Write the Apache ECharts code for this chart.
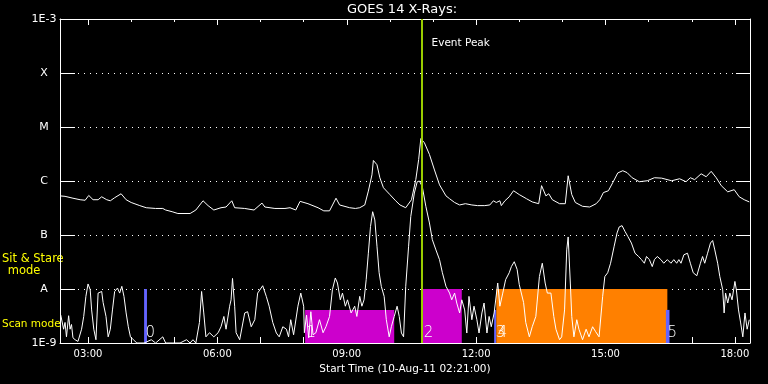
<!DOCTYPE html>
<html><head><meta charset="utf-8">
<script src="https://cdn.jsdelivr.net/npm/echarts@6/dist/echarts.min.js"></script>
<style>html,body{margin:0;padding:0;background:#000;}#c{width:768px;height:384px;}</style>
</head><body><div id="c"></div>
<script>
// ---------- data ----------
const chartTitle = 'GOES 14 X-Rays:';
const xAxisTitle = 'Start Time (10-Aug-11 02:21:00)';
const timeRange = [141, 1101];                 // minutes since 00:00, 10-Aug-11
const majorTicks = [180, 360, 540, 720, 900, 1080];
const hourTicks = [180, 240, 300, 360, 420, 480, 540, 600, 660, 720, 780, 840, 900, 960, 1020, 1080];
const fluxLevels = [1e-9, 1e-8, 1e-7, 1e-6, 1e-5, 1e-4, 1e-3];
const levelLabels = ['1E-9', 'A', 'B', 'C', 'M', 'X', '1E-3'];
const eventPeakTime = 644;
const eventPeakLabel = 'Event Peak';
const modeLabels = ['Sit & Stare', 'mode', 'Scan mode'];

// long channel (upper curve): [minutes, W/m^2]
const longChannel = [[141,5.3e-7],[148,5.2e-7],[159,4.8e-7],[169,4.5e-7],[176,4.4e-7],[181,5.4e-7],[187,4.5e-7],[194,4.5e-7],[199,5.1e-7],[206,4.5e-7],[211,4.3e-7],[217,4.9e-7],[226,5.8e-7],[233,4.5e-7],[240,4.0e-7],[252,3.5e-7],[261,3.2e-7],[274,3.1e-7],[284,3.1e-7],[288,2.9e-7],[297,2.7e-7],[305,2.5e-7],[322,2.5e-7],[330,2.9e-7],[340,4.3e-7],[347,3.5e-7],[355,2.9e-7],[365,3.2e-7],[372,3.3e-7],[380,4.3e-7],[384,3.2e-7],[398,3.1e-7],[411,2.9e-7],[422,3.9e-7],[426,3.3e-7],[440,3.1e-7],[454,3.1e-7],[461,3.2e-7],[469,2.9e-7],[475,4.2e-7],[486,3.8e-7],[500,3.2e-7],[508,2.8e-7],[516,2.8e-7],[525,4.8e-7],[530,3.6e-7],[544,3.2e-7],[552,3.1e-7],[558,3.2e-7],[565,3.6e-7],[570,6.5e-7],[575,1.3e-6],[577,2.4e-6],[582,2.0e-6],[586,1.15e-6],[591,7.5e-7],[600,5.6e-7],[608,4.3e-7],[614,3.6e-7],[622,3.2e-7],[630,4.5e-7],[636,1.06e-6],[640,2.5e-6],[643,6.1e-6],[648,5.1e-6],[655,3.1e-6],[662,1.6e-6],[669,8.5e-7],[678,5.3e-7],[683,4.7e-7],[690,4.0e-7],[697,3.6e-7],[705,3.8e-7],[714,3.6e-7],[722,3.5e-7],[732,3.5e-7],[739,3.6e-7],[744,4.3e-7],[748,4.0e-7],[753,4.3e-7],[755,3.5e-7],[760,4.3e-7],[766,5.1e-7],[772,6.6e-7],[780,5.6e-7],[790,4.7e-7],[798,4.1e-7],[807,3.8e-7],[811,8.2e-7],[817,5.3e-7],[821,5.8e-7],[826,4.5e-7],[836,3.8e-7],[844,3.8e-7],[848,1.25e-6],[853,5.6e-7],[858,4.0e-7],[868,3.4e-7],[878,3.3e-7],[887,3.8e-7],[892,4.5e-7],[897,6.1e-7],[904,6.6e-7],[910,9.3e-7],[917,1.41e-6],[924,1.55e-6],[930,1.43e-6],[937,1.15e-6],[947,9.7e-7],[958,1.01e-6],[968,1.15e-6],[978,1.13e-6],[992,1.01e-6],[1003,1.1e-6],[1012,9.7e-7],[1018,1.15e-6],[1024,1.06e-6],[1033,1.36e-6],[1040,1.2e-6],[1047,1.51e-6],[1054,1.15e-6],[1061,8.2e-7],[1070,6.3e-7],[1079,6.9e-7],[1086,5.1e-7],[1093,4.5e-7],[1100,4.1e-7]];

// short channel (lower curve): [minutes, W/m^2]
const shortChannel = [[142,3.3e-9],[146,1.8e-9],[148,2.4e-9],[150,1.3e-9],[153,3.2e-9],[155,1.8e-9],[157,2.2e-9],[159,1.25e-9],[162,1.15e-9],[166,1.07e-9],[171,1.8e-9],[174,3.1e-9],[177,7.3e-9],[180,1.24e-8],[183,9.7e-9],[185,4.1e-9],[188,1.8e-9],[191,1.15e-9],[194,8.4e-9],[199,9.0e-9],[201,5.6e-9],[205,3.1e-9],[208,1.3e-9],[211,1.8e-9],[214,4.1e-9],[217,9.0e-9],[221,1.04e-8],[224,8.4e-9],[227,1.12e-8],[230,7.3e-9],[233,3.6e-9],[236,2.0e-9],[239,1.3e-9],[243,1.15e-9],[248,1.0e-9],[258,1.0e-9],[268,1.15e-9],[274,1.0e-9],[284,1.3e-9],[288,1.0e-9],[298,1.0e-9],[308,1.0e-9],[317,1.15e-9],[322,1.0e-9],[326,1.15e-9],[330,1.0e-9],[335,2.4e-9],[338,9.0e-9],[341,3.6e-9],[344,1.3e-9],[349,1.55e-9],[355,1.3e-9],[361,1.55e-9],[365,2.0e-9],[369,3.1e-9],[372,1.8e-9],[377,4.8e-9],[379,6.3e-9],[381,1.57e-8],[384,4.8e-9],[386,1.55e-9],[391,1.15e-9],[398,3.6e-9],[402,3.8e-9],[407,2.0e-9],[412,2.7e-9],[416,8.4e-9],[423,1.15e-8],[428,7.3e-9],[432,4.8e-9],[437,2.4e-9],[442,1.53e-9],[446,1.3e-9],[451,2.0e-9],[456,1.8e-9],[459,1.3e-9],[462,2.7e-9],[466,1.42e-9],[472,4.8e-9],[476,8.4e-9],[480,4.8e-9],[481,1.55e-9],[484,3.3e-9],[487,1.25e-9],[490,3.8e-9],[493,1.42e-9],[497,1.55e-9],[502,2.7e-9],[507,1.55e-9],[511,2.0e-9],[516,3.1e-9],[520,9.7e-9],[524,1.6e-8],[527,1.29e-8],[531,6.3e-9],[534,8.4e-9],[538,4.8e-9],[541,6.3e-9],[546,3.6e-9],[551,4.8e-9],[554,3.1e-9],[558,7.3e-9],[561,4.8e-9],[564,6.3e-9],[567,1.49e-8],[570,4.6e-8],[573,1.44e-7],[576,2.7e-7],[579,1.9e-7],[582,6.2e-8],[585,2.0e-8],[588,1.12e-8],[592,7.3e-9],[595,2.7e-9],[599,1.3e-9],[602,2.0e-9],[606,3.1e-9],[610,4.8e-9],[613,3.1e-9],[616,1.53e-9],[619,1.3e-9],[622,1.12e-8],[626,6.2e-8],[629,2.2e-7],[634,6.0e-7],[638,9.7e-7],[641,1.0e-6],[645,7.9e-7],[650,3.4e-7],[655,1.67e-7],[659,8.2e-8],[664,5.3e-8],[669,3.5e-8],[673,2.0e-8],[678,1.12e-8],[683,8.4e-9],[686,6.3e-9],[690,8.4e-9],[693,5.5e-9],[697,3.6e-9],[700,6.3e-9],[704,4.1e-9],[707,1.53e-9],[710,7.3e-9],[714,2.7e-9],[717,4.8e-9],[721,2.7e-9],[724,1.53e-9],[728,3.6e-9],[731,5.5e-9],[735,1.53e-9],[738,3.1e-9],[741,2.0e-9],[745,3.6e-9],[750,1.29e-8],[753,4.8e-9],[757,8.4e-9],[761,1.49e-8],[766,2.0e-8],[769,2.6e-8],[773,3.2e-8],[777,2.3e-8],[780,1.2e-8],[786,5.6e-9],[789,2.4e-9],[794,1.3e-9],[798,2.0e-9],[803,3.1e-9],[808,1.7e-8],[812,3.0e-8],[816,1.29e-8],[819,8.4e-9],[824,8.4e-9],[828,3.1e-9],[831,1.8e-9],[836,1.15e-9],[839,1.3e-9],[843,4.1e-9],[846,5.3e-8],[848,9.2e-8],[851,1.29e-8],[853,3.1e-9],[856,1.3e-9],[860,2.7e-9],[863,1.8e-9],[868,1.15e-9],[873,1.8e-9],[877,1.3e-9],[882,2.0e-9],[886,1.64e-9],[891,1.3e-9],[896,7.3e-9],[899,1.7e-8],[903,2.0e-8],[907,3.0e-8],[912,6.2e-8],[916,1.09e-7],[919,1.41e-7],[923,1.49e-7],[927,1.17e-7],[931,9.4e-8],[936,7.1e-8],[941,4.6e-8],[946,4.0e-8],[950,3.5e-8],[954,3.0e-8],[957,4.0e-8],[961,3.5e-8],[965,2.6e-8],[968,3.5e-8],[972,4.0e-8],[977,3.5e-8],[981,3.0e-8],[986,3.5e-8],[991,3.0e-8],[995,3.5e-8],[999,3.0e-8],[1002,3.5e-8],[1005,3.0e-8],[1009,4.3e-8],[1014,4.6e-8],[1018,3.0e-8],[1022,2.0e-8],[1027,1.76e-8],[1032,3.0e-8],[1035,4.0e-8],[1038,3.0e-8],[1042,4.6e-8],[1046,7.1e-8],[1049,7.9e-8],[1052,5.3e-8],[1056,3.0e-8],[1059,1.7e-8],[1063,9.7e-9],[1065,3.6e-9],[1067,8.4e-9],[1070,5.5e-9],[1073,8.4e-9],[1076,6.3e-9],[1080,1.38e-8],[1082,9.7e-9],[1085,4.1e-9],[1088,2.35e-9],[1091,1.3e-9],[1094,3.6e-9],[1097,1.8e-9],[1100,2.7e-9]];

// observing-mode blocks: [start min, end min, top flux, number, kind]
const modeBlocks = [
  [258, 262, 1e-8, '0', 'marker'],
  [482, 606, 4.1e-9, '1', 'scan'],
  [645, 700, 1e-8, '2', 'scan'],
  [745, 748, 4.1e-9, '3', 'marker'],
  [748, 986, 1e-8, '4', 'stare'],
  [984, 989, 4.1e-9, '5', 'marker']
];

// ---------- styles ----------
const kindColor = { marker: '#6464ff', scan: '#cc00cc', stare: '#ff8000' };
const FONT = 'DejaVu Sans';
const fmtTime = m => String(Math.floor(m / 60)).padStart(2, '0') + ':' + String(m % 60).padStart(2, '0');

const chart = echarts.init(document.getElementById('c'), null, { renderer: 'canvas' });

const xBase = { type: 'value', min: timeRange[0], max: timeRange[1], splitLine: { show: false } };
const yBase = { type: 'log', logBase: 10, min: fluxLevels[0], max: fluxLevels[fluxLevels.length - 1] };

const option = {
  backgroundColor: '#000',
  animation: false,
  grid: { left: 60, right: 18, top: 19, bottom: 41, containLabel: false },
  xAxis: [
    Object.assign({}, xBase, {
      position: 'bottom',
      axisLine: { show: true, lineStyle: { color: '#fff', width: 1 } },
      axisTick: { show: true, inside: true, length: 6, customValues: hourTicks, lineStyle: { color: '#fff' } },
      axisLabel: { show: true, customValues: majorTicks, formatter: v => fmtTime(Math.round(v)), color: '#fff', fontFamily: FONT, fontSize: 10, margin: 6 },
      name: xAxisTitle, nameLocation: 'middle', nameGap: 20,
      nameTextStyle: { color: '#fff', fontFamily: FONT, fontSize: 10.5 }
    }),
    Object.assign({}, xBase, {
      position: 'top',
      axisLine: { show: true, lineStyle: { color: '#fff', width: 1 } },
      axisTick: { show: true, inside: true, length: 6, customValues: majorTicks, lineStyle: { color: '#fff' } },
      axisLabel: { show: false }
    }),
    Object.assign({}, xBase, {
      position: 'top',
      axisLine: { show: false },
      axisTick: { show: true, inside: true, length: 3, customValues: hourTicks, lineStyle: { color: '#fff' } },
      axisLabel: { show: false }
    })
  ],
  yAxis: [
    Object.assign({}, yBase, {
      position: 'left',
      axisLine: { show: true, lineStyle: { color: '#fff', width: 1 } },
      axisTick: { show: true, inside: true, length: 15, lineStyle: { color: '#fff' } },
      axisLabel: {
        show: true, color: '#fff', fontFamily: FONT, fontSize: 11, align: 'center', margin: 16,
        formatter: v => levelLabels[Math.round(Math.log10(v)) + 9] || ''
      },
      splitLine: { show: true, lineStyle: { color: '#fff', width: 1, type: [1, 5] } },
      minorTick: { show: false }
    }),
    Object.assign({}, yBase, {
      position: 'right',
      axisLine: { show: true, lineStyle: { color: '#fff', width: 1 } },
      axisTick: { show: true, inside: true, length: 14, lineStyle: { color: '#fff' } },
      axisLabel: { show: false },
      splitLine: { show: false }
    })
  ],
  series: [
    {
      type: 'custom', name: 'modes', xAxisIndex: 0, yAxisIndex: 0, z: 1, clip: true,
      data: modeBlocks.map(b => [b[0], b[1], b[2]]),
      renderItem: (params, api) => {
        const blk = modeBlocks[params.dataIndex];
        const p0 = api.coord([api.value(0), api.value(2)]);
        const p1 = api.coord([api.value(1), fluxLevels[0]]);
        return {
          type: 'group',
          children: [
            { type: 'rect', shape: { x: p0[0], y: p0[1], width: Math.max(p1[0] - p0[0], 2), height: p1[1] - p0[1] },
              style: { fill: kindColor[blk[4]] } },
            { type: 'text', z2: 5, style: { text: blk[3], x: p0[0] + 1.5, y: p1[1] - 2, fill: '#fff',
              font: '200 15px "DejaVu Sans"', textVerticalAlign: 'bottom', textAlign: 'left' } }
          ]
        };
      }
    },
    {
      type: 'line', name: 'short', xAxisIndex: 0, yAxisIndex: 0, z: 3, clip: true,
      data: shortChannel, showSymbol: false, symbol: 'none',
      lineStyle: { color: '#fff', width: 1 }
    },
    {
      type: 'line', name: 'long', xAxisIndex: 0, yAxisIndex: 0, z: 3, clip: true,
      data: longChannel, showSymbol: false, symbol: 'none',
      lineStyle: { color: '#fff', width: 1 }
    },
    {
      type: 'line', name: 'event', xAxisIndex: 0, yAxisIndex: 0, z: 5, data: [],
      markLine: {
        silent: true, symbol: ['none', 'none'], animation: false,
        label: { show: false },
        lineStyle: { color: '#99cc00', width: 2, type: 'solid' },
        data: [{ xAxis: eventPeakTime }]
      }
    }
  ],
  graphic: [
    { type: 'text', x: 402, y: 10, style: { text: chartTitle, fill: '#fff', font: '13px "DejaVu Sans"', textAlign: 'center', textVerticalAlign: 'middle' } },
    { type: 'text', x: 2, y: 259, style: { text: modeLabels[0], fill: '#ffff00', font: '11.5px "DejaVu Sans"', textAlign: 'left', textVerticalAlign: 'middle' } },
    { type: 'text', x: 24, y: 271, style: { text: modeLabels[1], fill: '#ffff00', font: '11.5px "DejaVu Sans"', textAlign: 'center', textVerticalAlign: 'middle' } },
    { type: 'text', x: 2, y: 324, style: { text: modeLabels[2], fill: '#ffff00', font: '10.5px "DejaVu Sans"', textAlign: 'left', textVerticalAlign: 'middle' } }
  ]
};
chart.setOption(option);

const peakX = chart.convertToPixel({ xAxisIndex: 0 }, eventPeakTime);
chart.setOption({
  graphic: option.graphic.concat([
    { type: 'text', x: peakX + 10, y: 43, style: { text: eventPeakLabel, fill: '#fff', font: '10.5px "DejaVu Sans"', textAlign: 'left', textVerticalAlign: 'middle' } }
  ])
});
</script>
</body></html>
